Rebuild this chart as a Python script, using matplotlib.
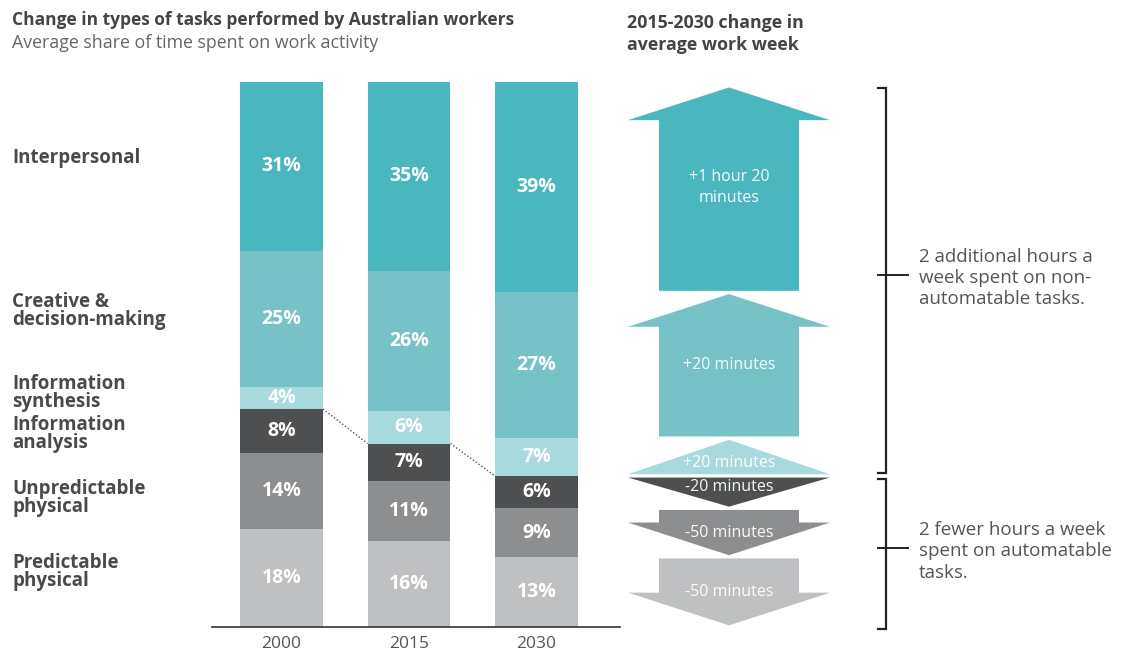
import matplotlib.pyplot as plt
import matplotlib.transforms as mtransforms
from matplotlib.patches import Polygon
import numpy as np

plt.rcParams['font.family'] = ['Open Sans', 'DejaVu Sans']

years = ['2000', '2015', '2030']
categories = ['Predictable\nphysical', 'Unpredictable\nphysical', 'Information\nanalysis',
              'Information\nsynthesis', 'Creative &\ndecision-making', 'Interpersonal']
share_2000 = [18, 14, 8, 4, 25, 31]
share_2015 = [16, 11, 7, 6, 26, 35]
share_2030 = [13, 9, 6, 7, 27, 39]
change_labels = ['-50 minutes', '-50 minutes', '-20 minutes',
                 '+20 minutes', '+20 minutes', '+1 hour 20\nminutes']
change_dir = [-1, -1, -1, 1, 1, 1]
colors = ['#bfc0c2', '#8d8e90', '#4d4f51', '#a8d9dc', '#76c2c7', '#4ab6bf']
label_y = [10.1, 23.7, 35.4, 42.9, 58.0, 86.1]
bracket_text = ['2 fewer hours a week\nspent on automatable\ntasks.',
                '2 additional hours a\nweek spent on non-\nautomatable tasks.']

shares = np.array([share_2000, share_2015, share_2030], dtype=float)
shares = shares / shares.sum(axis=1, keepdims=True) * 100  # bars drawn full height
bottoms = np.cumsum(shares, axis=1) - shares

fig = plt.figure(figsize=(11.28, 6.52), dpi=100)
W, H = 1128, 652
# axes: x unit = 127.5 px, bar 0 centred at 281.5 px; y 0..100 from 627 px to 82 px
x0_px, unit = 281.5, 127.5
ax = fig.add_axes([200 / W, (H - 627) / H, 928 / W, 545 / H])
ax.set_xlim((200 - x0_px) / unit, (1128 - x0_px) / unit)
ax.set_ylim(0, 100)
ax.axis('off')

xs = np.arange(len(years))
bw = 0.65
for j in range(len(categories)):
    ax.bar(xs, shares[:, j], bw, bottom=bottoms[:, j], color=colors[j], linewidth=0)
    vals = [share_2000[j], share_2015[j], share_2030[j]]
    for i in range(len(years)):
        ax.text(xs[i], bottoms[i, j] + shares[i, j] / 2, f'{vals[i]}%', ha='center', va='center',
                color='white', fontsize=14, fontweight='bold')

# dotted line joining top of information analysis
ia_top = bottoms[:, 3]
for i in range(len(years) - 1):
    ax.plot([xs[i] + bw / 2, xs[i + 1] - bw / 2], [ia_top[i], ia_top[i + 1]],
            ls=(0, (1, 1.5)), color='#555555', lw=1)

# baseline
ax.plot([(212 - x0_px) / unit, (620 - x0_px) / unit], [0, 0], color='#333333', lw=1.2,
        clip_on=False)
for i, yr in enumerate(years):
    ax.text(xs[i], -1.6, yr, ha='center', va='top', fontsize=12.5, color='#555555')

# arrows aligned with the 2030 segments
ax_c = (729 - x0_px) / unit
head_hw = 101 / unit
shaft_hw = 70 / unit
head_len = 6.0
for j in range(len(categories)):
    lo = bottoms[2, j]
    hi = lo + shares[2, j]
    gap = 0.3
    if change_dir[j] > 0:
        tail, tip = lo + gap, hi - gap
        if j == len(categories) - 1:
            tip = hi - 1.0
    else:
        tail, tip = hi - gap, lo + gap
    length = abs(tip - tail)
    d = change_dir[j]
    if length <= head_len + 0.5:
        pts = [(ax_c - head_hw, tail), (ax_c + head_hw, tail), (ax_c, tip)]
        ly = tail + d * length / 3
    else:
        hb = tip - d * head_len
        pts = [(ax_c - shaft_hw, tail), (ax_c + shaft_hw, tail), (ax_c + shaft_hw, hb),
               (ax_c + head_hw, hb), (ax_c, tip), (ax_c - head_hw, hb), (ax_c - shaft_hw, hb)]
        ly = (lo + hi) / 2
    ax.add_patch(Polygon(pts, closed=True, facecolor=colors[j], edgecolor='none'))
    ax.text(ax_c, ly, change_labels[j], ha='center', va='center', color='white',
            fontsize=11.5, linespacing=1.45, alpha=0.95)

# brackets
bx = (886 - x0_px) / unit
tk = 8 / unit
split = bottoms[2, 3]
groups = [(-0.3, split - 0.5), (split + 0.6, 98.9)]
for (b, t), txt in zip(groups, bracket_text):
    ax.plot([bx - tk, bx, bx, bx - tk], [b, b, t, t], color='#222222', lw=1.6,
            clip_on=False, solid_joinstyle='miter')
    mid = (b + t) / 2 + 1
    ax.plot([(878 - x0_px) / unit, (908 - x0_px) / unit], [mid, mid], color='#222222', lw=1.4)
    ax.text((919 - x0_px) / unit, mid - 0.6, txt, ha='left', va='center', fontsize=13.5,
            color='#555555', linespacing=1.22)

# category labels at left
trans = mtransforms.blended_transform_factory(fig.transFigure, ax.transData)
for j, lab in enumerate(categories):
    ax.text(12 / W, label_y[j], lab, transform=trans, ha='left', va='center', fontsize=13.5,
            fontweight='bold', color='#4a4a4a', linespacing=0.88)

# titles
fig.text(12 / W, 1 - 20 / H, 'Change in types of tasks performed by Australian workers',
         ha='left', va='center', fontsize=12.5, fontweight='bold', color='#444444')
fig.text(12 / W, 1 - 43 / H, 'Average share of time spent on work activity',
         ha='left', va='center', fontsize=12.8, color='#666666')
fig.text(627 / W, 1 - 34 / H, '2015-2030 change in\naverage work week', ha='left',
         va='center', fontsize=12.8, fontweight='bold', color='#444444', linespacing=1.22)

fig.savefig('out.png', dpi=100, facecolor='white')
